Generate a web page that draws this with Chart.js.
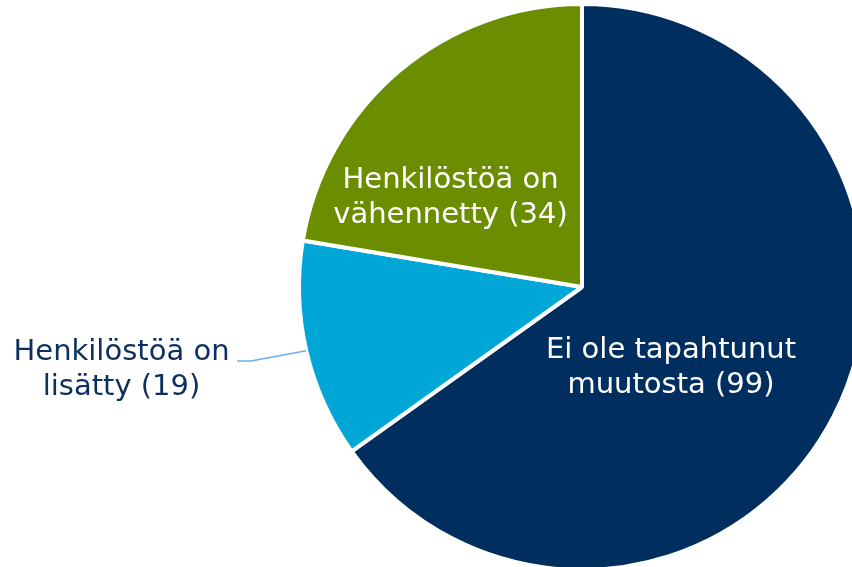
<!DOCTYPE html>
<html>
<head>
<meta charset="utf-8">
<script src="https://cdn.jsdelivr.net/npm/chart.js@4.4.0/dist/chart.umd.min.js"></script>
<style>
  html, body { margin: 0; padding: 0; background: #fff; overflow: hidden; width: 852px; height: 567px; }
  #wrap { position: absolute; left: 0; top: 0; width: 1164px; height: 574px; }
</style>
</head>
<body>
<div id="wrap"><canvas id="pie" width="1164" height="574"></canvas></div>
<script>
// chart data
const categories = ['Ei ole tapahtunut muutosta', 'Henkilöstöä on lisätty', 'Henkilöstöä on vähennetty'];
const values = [99, 19, 34];
const labelLines = [
    ['Ei ole tapahtunut', 'muutosta (99)'],
    ['Henkilöstöä on', 'lisätty (19)'],
    ['Henkilöstöä on', 'vähennetty (34)']
];
const colors = ['#002f5f', '#00a7d6', '#6b8e00'];

const FONT = '29px "DejaVu Sans", Verdana, sans-serif';
const LINE_H = 35;

// draws the slice labels, the small one outside with a leader line
const sliceLabels = {
    id: 'sliceLabels',
    afterDatasetsDraw(chart) {
        const ctx = chart.ctx;
        const arcs = chart.getDatasetMeta(0).data;
        ctx.save();
        ctx.font = FONT;
        ctx.textAlign = 'center';
        ctx.textBaseline = 'alphabetic';
        arcs.forEach((arc, i) => {
            const mid = (arc.startAngle + arc.endAngle) / 2;
            const r = arc.outerRadius;
            let tx, ty;
            if (i === 1) {
                // outside label
                const ex = arc.x + Math.cos(mid) * r;
                const ey = arc.y + Math.sin(mid) * r;
                const kx = arc.x - 345, ky = arc.y + 74;
                ctx.strokeStyle = '#6aaef0';
                ctx.lineWidth = 1.5;
                ctx.beginPath();
                ctx.moveTo(ex, ey);
                ctx.lineTo(kx + 14, ky);
                ctx.lineTo(kx, ky);
                ctx.stroke();
                tx = arc.x - 460.5;
                ty = arc.y + 73;
                ctx.fillStyle = '#0b2f5e';
            } else if (i === 0) {
                tx = arc.x + 89;
                ty = arc.y + 71;
                ctx.fillStyle = '#ffffff';
            } else {
                tx = arc.x - 131.5;
                ty = arc.y - 99;
                ctx.fillStyle = '#ffffff';
            }
            labelLines[i].forEach((ln, k) => {
                ctx.fillText(ln, tx, ty + k * LINE_H);
            });
        });
        ctx.restore();
    }
};

new Chart(document.getElementById('pie'), {
    type: 'pie',
    data: {
        labels: categories,
        datasets: [{
            data: values,
            backgroundColor: colors,
            borderColor: '#ffffff',
            borderWidth: 4,
            hoverOffset: 0
        }]
    },
    options: {
        responsive: false,
        animation: false,
        radius: 283,
        layout: { padding: 0 },
        plugins: {
            legend: { display: false },
            tooltip: { enabled: false }
        }
    },
    plugins: [sliceLabels]
});
</script>
</body>
</html>
